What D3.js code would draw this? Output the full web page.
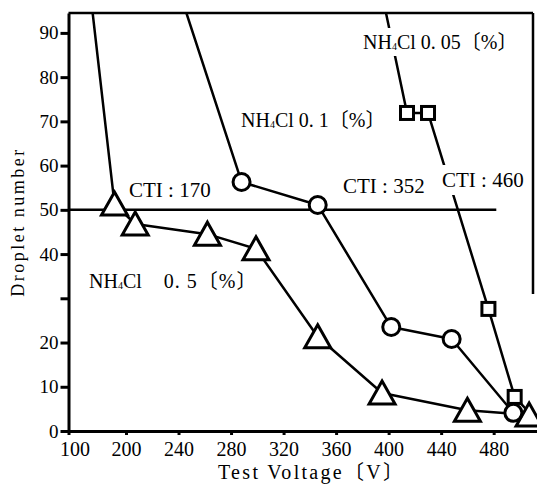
<!DOCTYPE html>
<html>
<head>
<meta charset="utf-8">
<script src="https://cdn.jsdelivr.net/npm/d3@7"></script>
<style>
  html, body { margin: 0; padding: 0; background: #fff; }
  svg { display: block; }
  text { font-family: "Liberation Serif", "Noto Sans CJK JP", serif; fill: #000; }
</style>
</head>
<body>
<svg id="chart" width="537" height="490"></svg>
<script>
// ---------------- data ----------------
const xTickValues = [100, 200, 240, 280, 320, 360, 400, 440, 480];
const xTickLabels = ["100", "200", "240", "280", "320", "360", "400", "440", "480"];
const yTickValues = [0, 10, 20, 30, 40, 50, 60, 70, 80, 90];
const yTickLabels = ["0", "10", "20", "", "40", "50", "60", "70", "80", "90"];

// NH4Cl 0.5 % (triangles); first point = where the curve enters from the top
const voltage05 = [142, 180, 207, 262, 299, 346, 395, 460, 507];
const drops05   = [94.5, 51.3, 46.8, 44.5, 41.2, 21.3, 8.6, 4.7, 3.6];

// NH4Cl 0.1 % (circles)
const voltage01 = [246, 288, 346, 402, 448, 495];
const drops01   = [94.5, 56.3, 51.1, 23.5, 20.8, 4.1];

// NH4Cl 0.05 % (squares)
const voltage005 = [398, 414, 430, 476, 496, 511];
const drops005   = [94.5, 71.9, 71.9, 27.6, 7.7, 2.9];

const ctiLevel = 50;
const ctiLineEnd = 482;

// ---------------- layout ----------------
const svg = d3.select("#chart");
const mLeft = 68.5, mTop = 13, mBottom = 431, mRight = 537, boxRight = 533;

// broken x axis: 100 at origin, linear from 200 onward
const x = d3.scaleLinear().domain([100, 200, 513]).range([mLeft, 126, mRight]);
const y = d3.scaleLinear().domain([0, 94.5]).range([mBottom, mTop]);

svg.append("defs").append("clipPath").attr("id", "plot")
  .append("rect").attr("x", mLeft).attr("y", mTop).attr("width", mRight - mLeft).attr("height", mBottom - mTop);

// frame (top and right)
svg.append("line").attr("x1", mLeft).attr("x2", boxRight).attr("y1", mTop).attr("y2", mTop)
  .attr("stroke", "#000").attr("stroke-width", 2.5);
svg.append("line").attr("x1", boxRight).attr("x2", boxRight).attr("y1", mTop).attr("y2", y(31))
  .attr("stroke", "#000").attr("stroke-width", 2.5);

// axes
const xAxis = d3.axisBottom(x).tickValues(xTickValues)
  .tickFormat((d, i) => xTickLabels[i]).tickSize(4).tickPadding(7).tickSizeOuter(0);
const gx = svg.append("g").attr("transform", `translate(0,${mBottom})`).call(xAxis);
gx.select(".domain").attr("stroke-width", 3);
gx.selectAll(".tick line").attr("stroke-width", 3);
gx.selectAll(".tick text").attr("font-size", 20)
  .attr("textLength", d => String(d).length * 10).attr("lengthAdjust", "spacingAndGlyphs")
  .attr("dx", (d, i) => i === 0 ? 6 : 0);

const yAxis = d3.axisLeft(y).tickValues(yTickValues)
  .tickFormat((d, i) => yTickLabels[i]).tickSize(8).tickPadding(2).tickSizeOuter(0);
const gy = svg.append("g").attr("transform", `translate(${mLeft},0)`).call(yAxis);
gy.select(".domain").attr("stroke-width", 3);
gy.selectAll(".tick line").attr("stroke-width", 3);
gy.selectAll(".tick text").attr("font-size", 19);

// CTI reference line
svg.append("line").attr("x1", x(100)).attr("x2", x(ctiLineEnd))
  .attr("y1", y(ctiLevel)).attr("y2", y(ctiLevel))
  .attr("stroke", "#000").attr("stroke-width", 2.5);

// series lines
const line = d3.line().x(d => x(d[0])).y(d => y(d[1]));
const plot = svg.append("g").attr("clip-path", "url(#plot)");
const s05 = d3.zip(voltage05, drops05);
const s01 = d3.zip(voltage01, drops01);
const s005 = d3.zip(voltage005, drops005);
[s05, s01, s005].forEach(s => {
  plot.append("path").attr("d", line(s)).attr("fill", "none")
    .attr("stroke", "#000").attr("stroke-width", 2.5).attr("stroke-linejoin", "round");
});

// labels (optionally with white background that hides the line under them)
function label(parts, xp, yp, size, bg) {
  const g = svg.append("g");
  const t = g.append("text").attr("x", xp).attr("y", yp).attr("font-size", size);
  parts.forEach(p => {
    const ts = t.append("tspan").text(p.t);
    let dy = 0;
    if (p.sub) { ts.attr("font-size", size * 0.5); dy = 1; }
    if (p.up) dy = -1;
    if (dy) ts.attr("dy", dy);
    if (p.dx) ts.attr("dx", p.dx);
    if (p.ls) ts.attr("letter-spacing", p.ls);
  });
  if (bg) {
    const b = t.node().getBBox();
    g.insert("rect", "text").attr("x", b.x - 2).attr("y", b.y - 3)
      .attr("width", b.width + 4).attr("height", b.height + 6).attr("fill", "#fff");
  }
  return t;
}

// markers
plot.selectAll(".tri").data(s05.slice(1)).join("path")
  .attr("d", "M0,-12L13,11L-13,11Z")
  .attr("transform", d => `translate(${x(d[0])},${y(d[1])})`)
  .attr("fill", "#fff").attr("stroke", "#000").attr("stroke-width", 3).attr("stroke-linejoin", "miter");
plot.selectAll(".circ").data(s01.slice(1)).join("circle")
  .attr("cx", d => x(d[0])).attr("cy", d => y(d[1])).attr("r", 8.5)
  .attr("fill", "#fff").attr("stroke", "#000").attr("stroke-width", 3);
plot.selectAll(".sq").data(s005.slice(1, 5)).join("rect")
  .attr("x", d => x(d[0]) - 6.5).attr("y", d => y(d[1]) - 6.5).attr("width", 13).attr("height", 13)
  .attr("fill", "#fff").attr("stroke", "#000").attr("stroke-width", 3);

// annotations
label([{t: "NH"}, {t: "4", sub: true}, {t: "Cl 0. 05〔%〕", up: true}], 363, 49, 20, true);
label([{t: "NH"}, {t: "4", sub: true}, {t: "Cl 0. 1〔%〕", up: true}], 241, 127, 20, false);
label([{t: "NH"}, {t: "4", sub: true}, {t: "Cl", up: true}, {t: "0. 5〔%〕", dx: 22, ls: 1}], 89, 288, 20, false);
label([{t: "CTI : 170"}], 129, 197, 21, false);
label([{t: "CTI : 352"}], 343, 193, 21, false);
label([{t: "CTI : 460"}], 442, 187, 21, true);

// axis titles
svg.append("text").attr("transform", "translate(24,222) rotate(-90)")
  .attr("text-anchor", "middle").attr("font-size", 18).attr("letter-spacing", 2.5)
  .text("Droplet number");
svg.append("text").attr("x", 218).attr("y", 479).attr("font-size", 20)
  .attr("letter-spacing", 2.3).text("Test Voltage〔V〕");
</script>
</body>
</html>
